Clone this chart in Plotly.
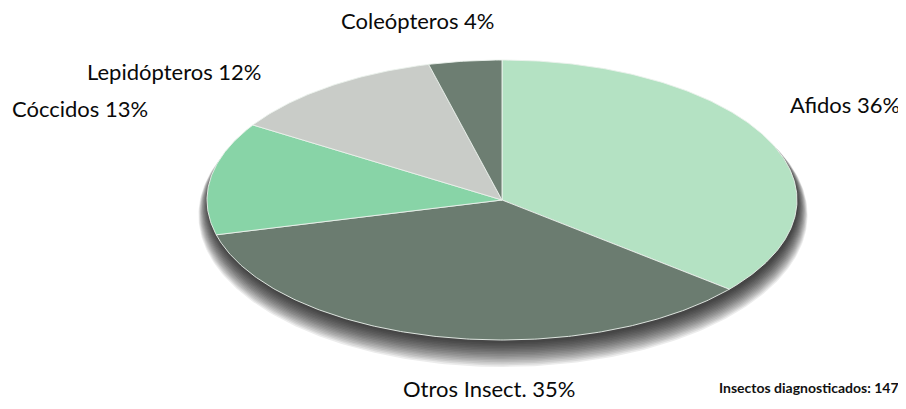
import numpy as np
import plotly.graph_objects as go

categories = ["Afidos", "Otros Insect.", "Cóccidos", "Lepidópteros", "Coleópteros"]
values = [36, 35, 13, 12, 4]
colors = ["#b4e2c3", "#6b7c70", "#88d4a7", "#c9ccc8", "#6d7e72"]
total_label = "Insectos diagnosticados: 147"

W, H = 906, 409
OFF = 8  # page body margin of the html page
cx, cy, rx, ry = 502, 200, 295, 140

fig = go.Figure()

# drop shadow (layers of dark ellipses, offset downward)
t = np.linspace(0, 2 * np.pi, 361)
for k in range(16):
    s = k * 0.8
    fig.add_trace(go.Scatter(
        x=cx + 1 + (rx + s * 0.8) * np.sin(t), y=cy + 3 + s + (ry + s) * np.cos(t),
        mode="lines", fill="toself", fillcolor="rgba(0,0,0,0.075)",
        line=dict(width=0), hoverinfo="skip", showlegend=False))

# wedges drawn from the values (clockwise from 12 o'clock)
tot = sum(values)
start = 0.0
for cat, v, c in zip(categories, values, colors):
    a0 = 2 * np.pi * start / tot
    a1 = 2 * np.pi * (start + v) / tot
    th = np.linspace(a0, a1, max(8, int(v * 6)))
    xs = np.concatenate([[cx], cx + rx * np.sin(th), [cx]])
    ys = np.concatenate([[cy], cy - ry * np.cos(th), [cy]])
    fig.add_trace(go.Scatter(
        x=xs, y=ys, mode="lines", fill="toself", fillcolor=c,
        line=dict(width=1, color="rgba(235,242,236,0.9)"),
        name=cat, hoverinfo="name", showlegend=False))
    start += v

labels = [f"{c} {v}%" for c, v in zip(categories, values)]
font = dict(family="Lato, 'Open Sans', sans-serif", size=22, color="#0a0a0a")
positions = {
    "Afidos": (902, 104, "right"),
    "Otros Insect.": (489, 388, "center"),
    "Cóccidos": (10, 108, "left"),
    "Lepidópteros": (264, 71, "right"),
    "Coleópteros": (417, 20, "center"),
}
for cat, lab in zip(categories, labels):
    x, y, anc = positions[cat]
    fig.add_annotation(x=x, y=y, text=lab, showarrow=False, font=font,
                       xanchor=anc, yanchor="middle")

fig.add_annotation(x=901, y=387, text=f"<b>{total_label}</b>", showarrow=False,
                   font=dict(family="Lato, 'Open Sans', sans-serif", size=14, color="#111111"),
                   xanchor="right", yanchor="middle")

fig.update_layout(
    width=W - OFF, height=H - OFF, margin=dict(l=0, r=0, t=0, b=0),
    paper_bgcolor="white", plot_bgcolor="white",
    xaxis=dict(range=[OFF, W], visible=False, fixedrange=True),
    yaxis=dict(range=[H, OFF], visible=False, fixedrange=True),
)
fig.write_html("out.html")
